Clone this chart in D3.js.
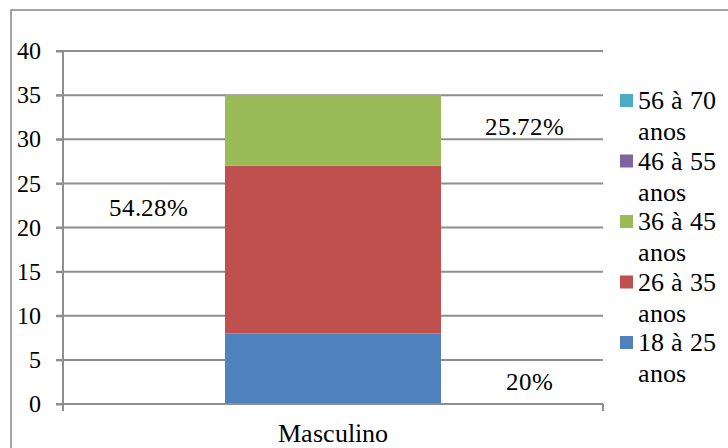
<!DOCTYPE html>
<html>
<head>
<meta charset="utf-8">
<script src="https://cdn.jsdelivr.net/npm/d3@7"></script>
<style>
  @font-face {
    font-family: "ChartSerif";
    src: local("Liberation Serif"), local("LiberationSerif"), local("LiberationSerif-Regular"),
         local("Tinos"), local("DejaVu Serif"), local("DejaVuSerif"), local("Noto Serif");
  }
  html, body { margin: 0; padding: 0; background: #fff; }
</style>
</head>
<body>
<svg id="chart" width="728" height="448"></svg>
<script>
// Age groups (legend order, top to bottom) and their colours
const categories = ["Masculino"];
const seriesNames = ["18 à 25 anos", "26 à 35 anos", "36 à 45 anos", "46 à 55 anos", "56 à 70 anos"];
const seriesColors = ["#4F81BD", "#C0504D", "#9BBB59", "#8064A2", "#4BACC6"];
const seriesValues = [8, 19, 8, 0, 0];   // one value per age group for "Masculino"
const yTicks = [0, 5, 10, 15, 20, 25, 30, 35, 40];
const percentLabels = ["54.28%", "25.72%", "20%"];

const FONT = "ChartSerif, 'Liberation Serif', 'Times New Roman', 'DejaVu Serif', serif";

const svg = d3.select("#chart");

// outer chart frame
svg.append("rect")
  .attr("x", 11).attr("y", 10).attr("width", 740).attr("height", 460)
  .attr("fill", "none").attr("stroke", "#868686").attr("stroke-width", 1.5);

const plot = { left: 63, right: 603, top: 51, bottom: 404 };

const y = d3.scaleLinear().domain([0, 40]).range([plot.bottom, plot.top]);
const x = d3.scaleBand().domain(categories).range([plot.left, plot.right])
  .paddingInner(0).paddingOuter(0.75);

// horizontal gridlines
svg.append("g").selectAll("line").data(yTicks.filter(d => d > 0)).join("line")
  .attr("x1", plot.left - 7).attr("x2", plot.right)
  .attr("y1", d => y(d)).attr("y2", d => y(d))
  .attr("stroke", "#8e8e8e").attr("stroke-width", 2);

// stacked segments
const stackData = [Object.fromEntries(seriesNames.map((n, i) => [n, seriesValues[i]]))];
const stacked = d3.stack().keys(seriesNames)(stackData);
svg.append("g").selectAll("rect").data(stacked).join("rect")
  .attr("x", x(categories[0]))
  .attr("width", x.bandwidth())
  .attr("y", d => y(d[0][1]))
  .attr("height", d => y(d[0][0]) - y(d[0][1]))
  .attr("fill", (d, i) => seriesColors[i]);

// y axis
const yAxis = svg.append("g").attr("transform", `translate(${plot.left},0)`)
  .call(d3.axisLeft(y).tickValues(yTicks).tickSize(7).tickPadding(15));
yAxis.attr("font-family", null).attr("font-size", null);
yAxis.select(".domain").remove();
yAxis.selectAll(".tick line").attr("stroke", "#8e8e8e").attr("stroke-width", 2);
yAxis.selectAll(".tick text")
  .style("font-family", FONT).style("font-size", "24px").attr("fill", "#000");
svg.append("line")
  .attr("x1", plot.left).attr("x2", plot.left)
  .attr("y1", plot.top).attr("y2", plot.bottom + 7)
  .attr("stroke", "#8e8e8e").attr("stroke-width", 2);

// x axis
svg.append("line")
  .attr("x1", plot.left - 7).attr("x2", plot.right)
  .attr("y1", plot.bottom).attr("y2", plot.bottom)
  .attr("stroke", "#8e8e8e").attr("stroke-width", 2);
svg.append("g").selectAll("line").data([plot.left, plot.right]).join("line")
  .attr("x1", d => d).attr("x2", d => d)
  .attr("y1", plot.bottom).attr("y2", plot.bottom + 7)
  .attr("stroke", "#8e8e8e").attr("stroke-width", 2);
svg.append("text")
  .attr("x", x(categories[0]) + x.bandwidth() / 2).attr("y", 442)
  .attr("text-anchor", "middle")
  .style("font-family", FONT).style("font-size", "26px")
  .text(categories[0]);

// floating percentage labels
const pctPos = [[148, 216], [524, 135], [529, 390]];
svg.append("g").selectAll("text").data(percentLabels).join("text")
  .attr("x", (d, i) => pctPos[i][0]).attr("y", (d, i) => pctPos[i][1])
  .attr("text-anchor", "middle")
  .style("font-family", FONT).style("font-size", "25px")
  .text(d => d);

// legend, listed from the top series down
const legendItems = seriesNames.map((n, i) => ({ name: n, color: seriesColors[i] })).reverse();
const lg = svg.append("g").selectAll("g").data(legendItems).join("g")
  .attr("transform", (d, i) => `translate(620, ${109 + i * 60.5})`);
lg.append("rect").attr("x", 0).attr("y", -15).attr("width", 13).attr("height", 13)
  .attr("fill", d => d.color);
const lt = lg.append("text").attr("x", 18).attr("y", 0)
  .style("font-family", FONT).style("font-size", "26px");
lt.append("tspan").attr("x", 18).attr("dy", 0).text(d => d.name.split(" ").slice(0, 3).join(" "));
lt.append("tspan").attr("x", 18).attr("dy", 31).text(d => d.name.split(" ").slice(3).join(" "));
</script>
</body>
</html>
